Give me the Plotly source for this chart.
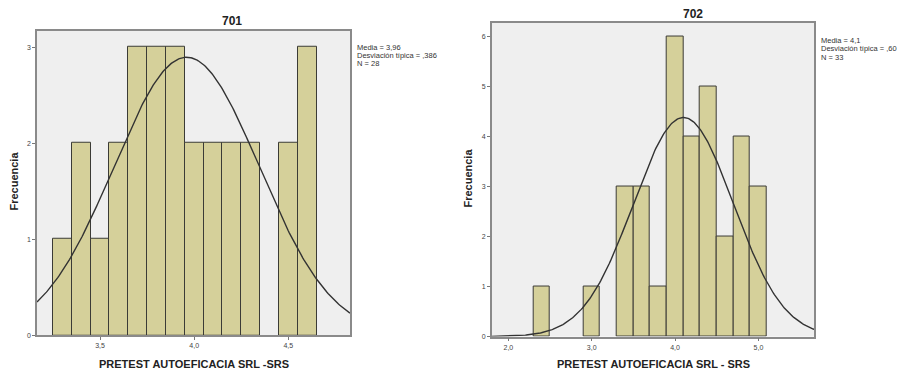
import numpy as np
import plotly.graph_objects as go

W, H = 903, 375

# ---- Data: chart 701 ----
bins_701 = [3.3, 3.4, 3.5, 3.6, 3.7, 3.8, 3.9, 4.0, 4.1, 4.2, 4.3, 4.5, 4.6]
counts_701 = [1, 2, 1, 2, 3, 3, 3, 2, 2, 2, 2, 2, 3]
binw_701 = 0.1
mean_701, sd_701, n_701 = 3.96, 0.386, 28
xticks_701 = [3.5, 4.0, 4.5]
xticktext_701 = ["3,5", "4,0", "4,5"]
yticks_701 = [0, 1, 2, 3]
stats_701 = ["Media = 3,96", "Desviación típica = ,386", "N = 28"]

# ---- Data: chart 702 ----
bins_702 = [2.4, 3.0, 3.4, 3.6, 3.8, 4.0, 4.2, 4.4, 4.6, 4.8, 5.0]
counts_702 = [1, 1, 3, 3, 1, 6, 4, 5, 2, 4, 3]
binw_702 = 0.2
mean_702, sd_702, n_702 = 4.1, 0.60, 33
xticks_702 = [2.0, 3.0, 4.0, 5.0]
xticktext_702 = ["2,0", "3,0", "4,0", "5,0"]
yticks_702 = [0, 1, 2, 3, 4, 5, 6]
stats_702 = ["Media = 4,1", "Desviación típica = ,60", "N = 33"]

xtitle_701 = "PRETEST AUTOEFICACIA SRL -SRS"
xtitle_702 = "PRETEST AUTOEFICACIA SRL - SRS"
ytitle = "Frecuencia"


def px(x):
    return x / W


def py(y):
    return 1 - y / H


BAR_FILL = "#D5D09A"
BAR_LINE = "#3b3b36"
BG = "#EFEFEF"
FRAME = "#8a8a8a"

fig = go.Figure()

fig.add_trace(go.Bar(x=bins_701, y=counts_701, width=binw_701,
                     marker=dict(color=BAR_FILL, line=dict(color=BAR_LINE, width=1)),
                     xaxis="x", yaxis="y", showlegend=False))
fig.add_trace(go.Bar(x=bins_702, y=counts_702, width=binw_702,
                     marker=dict(color=BAR_FILL, line=dict(color=BAR_LINE, width=1)),
                     xaxis="x2", yaxis="y2", showlegend=False))

xr1 = [3.165, 4.828]
xr2 = [1.80, 5.67]


def normal_curve(xr, mean, sd, n, bw):
    xs = np.linspace(xr[0], xr[1], 300)
    ys = n * bw / (sd * np.sqrt(2 * np.pi)) * np.exp(-0.5 * ((xs - mean) / sd) ** 2)
    return xs, ys


cx1, cy1 = normal_curve(xr1, mean_701, sd_701, n_701, binw_701)
cx2, cy2 = normal_curve(xr2, mean_702, sd_702, n_702, binw_702)
fig.add_trace(go.Scatter(x=cx1, y=cy1, mode="lines", line=dict(color="#333333", width=1.4),
                         xaxis="x", yaxis="y", showlegend=False))
fig.add_trace(go.Scatter(x=cx2, y=cy2, mode="lines", line=dict(color="#333333", width=1.4),
                         xaxis="x2", yaxis="y2", showlegend=False))

tickfont = dict(family="Liberation Sans, Arial", size=7, color="#444444")
axcommon = dict(showgrid=False, zeroline=False, showline=True, linecolor=FRAME, linewidth=1.5,
                mirror=True, ticks="outside", ticklen=3, tickcolor="#777777", tickwidth=1,
                tickfont=tickfont)

fig.update_layout(
    width=W, height=H,
    margin=dict(l=0, r=0, t=0, b=0),
    paper_bgcolor="white",
    plot_bgcolor=BG,
    bargap=0,
    xaxis=dict(domain=[px(37), px(350)], range=xr1, tickvals=xticks_701, ticktext=xticktext_701,
               anchor="y", **axcommon),
    yaxis=dict(domain=[py(338), py(31)], range=[0, 3.17], tickvals=yticks_701,
               anchor="x", **axcommon),
    xaxis2=dict(domain=[px(491.7), px(814.3)], range=xr2, tickvals=xticks_702, ticktext=xticktext_702,
                anchor="y2", **axcommon),
    yaxis2=dict(domain=[py(339.3), py(22.7)], range=[0, 6.29], tickvals=yticks_702,
                anchor="x2", **axcommon),
)

ann = []
titlefont = dict(family="Liberation Sans, Arial", size=12, color="#222222")
axtitlefont = dict(family="Liberation Sans, Arial", size=11, color="#222222")
statfont = dict(family="Liberation Sans, Arial", size=7.5, color="#333333")

ann.append(dict(text="<b>701</b>", x=px(232), y=py(21), xref="paper", yref="paper",
                showarrow=False, font=titlefont, xanchor="center", yanchor="middle"))
ann.append(dict(text="<b>702</b>", x=px(693), y=py(14), xref="paper", yref="paper",
                showarrow=False, font=titlefont, xanchor="center", yanchor="middle"))
ann.append(dict(text="<b>" + xtitle_701 + "</b>", x=px(193.5), y=py(367), xref="paper", yref="paper",
                showarrow=False, font=axtitlefont, xanchor="center", yanchor="middle"))
ann.append(dict(text="<b>" + xtitle_702 + "</b>", x=px(653), y=py(367), xref="paper", yref="paper",
                showarrow=False, font=axtitlefont, xanchor="center", yanchor="middle"))
ann.append(dict(text="<b>" + ytitle + "</b>", x=px(14), y=py(183), xref="paper", yref="paper",
                showarrow=False, font=axtitlefont, textangle=-90, xanchor="center", yanchor="middle"))
ann.append(dict(text="<b>" + ytitle + "</b>", x=px(468), y=py(179), xref="paper", yref="paper",
                showarrow=False, font=axtitlefont, textangle=-90, xanchor="center", yanchor="middle"))

for i, s in enumerate(stats_701):
    ann.append(dict(text=s, x=px(355), y=py(47.5 + 8.5 * i), xref="paper", yref="paper",
                    showarrow=False, font=statfont, xanchor="left", yanchor="middle"))
for i, s in enumerate(stats_702):
    ann.append(dict(text=s, x=px(819), y=py(40.5 + 8.5 * i), xref="paper", yref="paper",
                    showarrow=False, font=statfont, xanchor="left", yanchor="middle"))

fig.update_layout(annotations=ann)

fig.write_html("out.html")
